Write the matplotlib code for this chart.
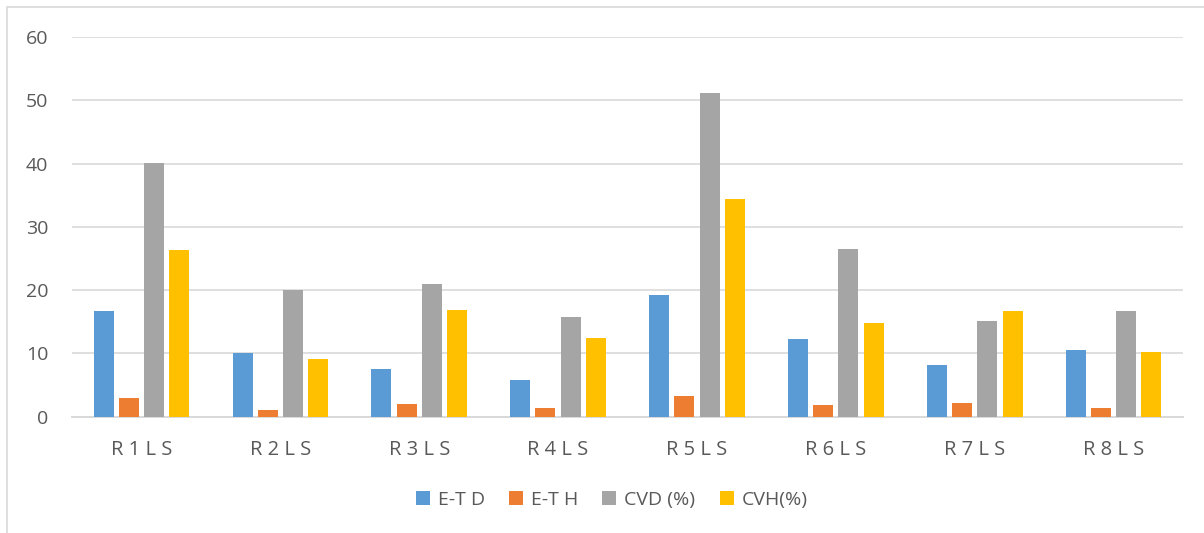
import numpy as np
import matplotlib.pyplot as plt
from matplotlib.patches import Rectangle

# data per sample
categories = ["R 1 L S", "R 2 L S", "R 3 L S", "R 4 L S",
              "R 5 L S", "R 6 L S", "R 7 L S", "R 8 L S"]
series_names = ["E-T D", "E-T H", "CVD (%)", "CVH(%)"]
et_d = [16.7, 10.0, 7.5, 5.75, 19.3, 12.35, 8.2, 10.6]
et_h = [2.95, 1.1, 2.0, 1.3, 3.3, 1.8, 2.15, 1.4]
cvd = [40.1, 20.0, 21.0, 15.7, 51.1, 26.5, 15.1, 16.7]
cvh = [26.4, 9.1, 16.9, 12.45, 34.4, 14.8, 16.7, 10.2]
colors = ["#5B9BD5", "#ED7D31", "#A5A5A5", "#FFC000"]

plt.rcParams['font.family'] = ['Open Sans', 'DejaVu Sans']
text_color = "#595959"
grid_color = "#D9D9D9"

fig = plt.figure(figsize=(12.04, 5.33), dpi=100)
ax = fig.add_axes([0.0598, 0.2182, 0.9228, 0.7124])

x = np.arange(len(categories))
step = 0.1815
width = 0.144
for i, (vals, name) in enumerate(zip([et_d, et_h, cvd, cvh], series_names)):
    ax.bar(x + (i - 1.5) * step, vals, width, color=colors[i], label=name,
           zorder=3)

ax.set_xlim(-0.5, len(categories) - 0.5)
ax.set_ylim(0, 60)
ax.set_yticks(range(0, 61, 10))
ax.set_xticks(x)
ax.set_xticklabels(categories)

ax.yaxis.grid(True, color=grid_color, linewidth=1.2)
ax.set_axisbelow(True)
for side in ["top", "right", "left"]:
    ax.spines[side].set_visible(False)
ax.spines["bottom"].set_color(grid_color)
ax.spines["bottom"].set_linewidth(1.4)
ax.tick_params(axis="both", length=0, labelsize=14, colors=text_color)
ax.tick_params(axis="x", pad=17)
ax.tick_params(axis="y", pad=17)
for lbl in ax.get_xticklabels():
    lbl.set_fontsize(14.5)

leg = fig.legend(loc="center", bbox_to_anchor=(0.508, 0.062), ncol=4,
                 frameon=False, fontsize=14, handlelength=0.72,
                 handleheight=0.72, handletextpad=0.4, columnspacing=1.25)
for t in leg.get_texts():
    t.set_color(text_color)

# chart area border
fig.patches.append(Rectangle((7 / 1204, -0.1), 1.2, 1 - 7 / 533 + 0.1,
                             transform=fig.transFigure, fill=False,
                             edgecolor=grid_color, linewidth=1.2))

fig.savefig("out.png", dpi=100)
